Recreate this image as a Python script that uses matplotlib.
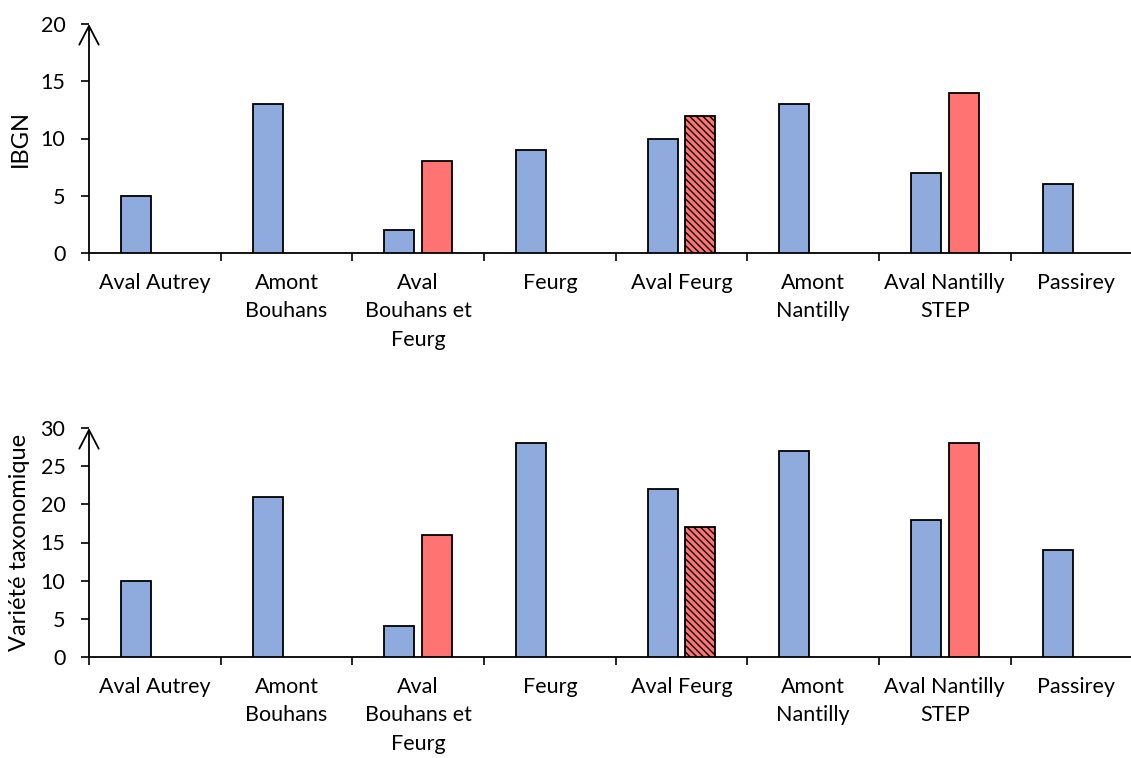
import numpy as np
import matplotlib
matplotlib.use("Agg")
import matplotlib.pyplot as plt

plt.rcParams['font.family'] = ['Lato', 'DejaVu Sans']
plt.rcParams['hatch.linewidth'] = 1.0
plt.rcParams['hatch.color'] = '#1a1a1a'

categories = ["Aval Autrey", "Amont\nBouhans", "Aval\nBouhans et\nFeurg", "Feurg",
              "Aval Feurg", "Amont\nNantilly", "Aval Nantilly\nSTEP", "Passirey"]

ibgn_first = [5, 13, 2, 9, 10, 13, 7, 6]
ibgn_second = [np.nan, np.nan, 8, np.nan, 12, np.nan, 14, np.nan]

variete_first = [10, 21, 4, 28, 22, 27, 18, 14]
variete_second = [np.nan, np.nan, 16, np.nan, 17, np.nan, 28, np.nan]

hatched_category = "Aval Feurg"

BLUE = '#8FAADC'
RED = '#FF7373'

fig = plt.figure(figsize=(11.31, 7.58), dpi=100)

left_px, right_px = 89, 1142.3
left = left_px / 1131
width = (right_px - left_px) / 1131
ax_top = fig.add_axes([left, 1 - 253 / 758, width, (253 - 24) / 758])
ax_bot = fig.add_axes([left, 1 - 657 / 758, width, (657 - 428) / 758])

bar_w = 0.228
offset = 0.143


def draw(ax, first, second, ymax, step, ylabel):
    x = np.arange(len(categories))
    ax.bar(x - offset, first, width=bar_w, color=BLUE, edgecolor='black', linewidth=1.3, zorder=3)
    for i, v in enumerate(second):
        if np.isnan(v):
            continue
        hatch = '\\\\\\\\\\' if categories[i].replace('\n', ' ') == hatched_category else None
        ax.bar(x[i] + offset, v, width=bar_w, color=RED, edgecolor='black', linewidth=1.3,
               hatch=hatch, zorder=3)
    ax.set_xlim(-0.5, len(categories) - 0.5)
    ax.set_ylim(0, ymax)
    ax.set_yticks(np.arange(0, ymax + 1, step))
    ax.set_xticks(np.arange(-0.5, len(categories) - 0.5 + 0.01, 1.0), minor=False)
    ax.set_xticklabels([])
    ax.tick_params(axis='x', which='major', length=6, width=1.2, direction='out')
    ax.set_xticks(x, minor=True)
    ax.set_xticklabels(categories, minor=True, fontsize=15.5, linespacing=1.52)
    ax.tick_params(axis='x', which='minor', length=0, pad=14.5)
    ax.tick_params(axis='y', length=6, width=1.2, direction='out', labelsize=15.5, pad=11)
    for s in ['top', 'right', 'left']:
        ax.spines[s].set_visible(False)
    ax.spines['bottom'].set_linewidth(1.3)
    ax.annotate('', xy=(0, 1.0), xytext=(0, 0), xycoords='axes fraction',
                arrowprops=dict(arrowstyle='->,head_length=1.35,head_width=0.7', lw=1.3,
                                color='black', shrinkA=0, shrinkB=0),
                annotation_clip=False)
    ax.set_ylabel(ylabel, fontsize=17, va='center')
    ax.yaxis.set_label_coords(-(left_px - 20) / (right_px - left_px), 0.5)


draw(ax_top, ibgn_first, ibgn_second, 20, 5, "IBGN")
draw(ax_bot, variete_first, variete_second, 30, 5, "Variété taxonomique")

fig.savefig("out.png", dpi=100)
